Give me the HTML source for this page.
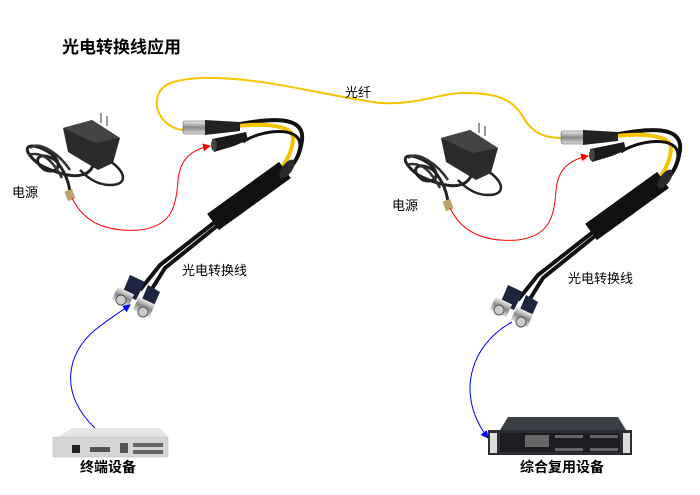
<!DOCTYPE html>
<html><head><meta charset="utf-8"><style>
html,body{margin:0;padding:0;background:#fff;width:700px;height:495px;overflow:hidden}
svg{display:block}
text{font-family:"Liberation Sans","Noto Sans CJK SC",sans-serif;fill:#000}
</style></head><body>
<svg width="700" height="495" viewBox="0 0 700 495" xmlns="http://www.w3.org/2000/svg">
<defs>
<marker id="ar" markerWidth="8" markerHeight="8" refX="7" refY="4" orient="auto" markerUnits="userSpaceOnUse"><path d="M0,0 L8,4 L0,8 z" fill="#f00"/></marker>
<marker id="ab" markerWidth="8" markerHeight="8" refX="7" refY="4" orient="auto" markerUnits="userSpaceOnUse"><path d="M0,0 L8,4 L0,8 z" fill="#00f"/></marker>
<linearGradient id="silver" x1="0" y1="0" x2="0" y2="1"><stop offset="0" stop-color="#eee"/><stop offset="0.5" stop-color="#888"/><stop offset="1" stop-color="#ddd"/></linearGradient>
<g id="grp">
  <!-- adapter cord -->
  <path d="M95,160 C90,185 60,175 40,165 C20,150 25,140 45,150 C65,160 60,175 45,170 C30,160 40,150 55,160 C65,170 70,185 70,195" fill="none" stroke="#222" stroke-width="3"/>
  <path d="M30,148 C40,140 60,155 70,170 M28,155 C45,150 55,165 62,178" fill="none" stroke="#333" stroke-width="2.5"/>
  <path d="M108,160 C125,170 130,185 110,185 C95,185 85,175 80,170" fill="none" stroke="#222" stroke-width="2.5"/>
  <rect x="66" y="190" width="8" height="10" fill="#b9a36a" transform="rotate(-20 70 195)"/>
  <!-- adapter body -->
  <path d="M63,128 L92,120 L120,138 L113,163 L98,170 L68,152 Z" fill="#2b2b2b"/>
  <path d="M63,128 L92,120 L120,138 L95,143 Z" fill="#444"/>
  <rect x="100" y="113" width="2" height="10" fill="#999"/><rect x="106" y="116" width="2" height="10" fill="#999"/>
  <!-- red connector -->
  <path d="M72,198 C85,225 110,232 140,230 C170,226 176,210 178,180 C180,160 190,150 210,146" fill="none" stroke="#f00" stroke-width="1" marker-end="url(#ar)"/>
  <!-- cables from connectors -->
  <path d="M235,125 C270,118 305,115 302,140 C300,155 295,163 288,170" fill="none" stroke="#111" stroke-width="4"/>
  <path d="M238,126 C265,123 295,125 293,140 C291,155 285,163 280,170" fill="none" stroke="#f5c400" stroke-width="4"/>
  <path d="M243,142 C260,130 300,125 300,145 C299,158 292,165 286,172" fill="none" stroke="#111" stroke-width="3"/>
  <!-- FC connector -->
  <rect x="183" y="121" width="24" height="13" rx="2" fill="url(#silver)" stroke="#555" stroke-width="0.5"/>
  <path d="M205,120 L240,122 L240,131 L205,135 Z" fill="#222"/>
  <!-- DC jack -->
  <path d="M212,139 L232,135 L246,132 L248,140 L234,146 L214,152 Z" fill="#1a1a1a"/>
  <ellipse cx="214" cy="145" rx="3" ry="6" fill="#444"/>
  <!-- lower cables -->
  <path d="M215,222 L160,265 L140,290" fill="none" stroke="#111" stroke-width="4"/>
  <path d="M217,226 L165,268 L150,292" fill="none" stroke="#111" stroke-width="4"/>
  <!-- body -->
  <line x1="285" y1="170" x2="213" y2="222" stroke="#111" stroke-width="20"/>
  <ellipse cx="287" cy="169" rx="5" ry="11" transform="rotate(36 287 169)" fill="#2a2a2a"/>
  <!-- BNCs -->
  <path d="M130,275 L145,282 L136,300 L122,294 Z" fill="#1d2440"/>
  <rect x="114" y="290" width="18" height="14" fill="url(#silver)" transform="rotate(25 123 297)"/>
  <circle cx="121" cy="300" r="5" fill="#ccc" stroke="#555"/>
  <path d="M148,285 L160,292 L152,310 L140,304 Z" fill="#1d2440"/>
  <rect x="135" y="300" width="18" height="14" fill="url(#silver)" transform="rotate(25 144 307)"/>
  <circle cx="143" cy="312" r="5" fill="#ccc" stroke="#555"/>
</g>
</defs>
<text x="62" y="53" font-size="17" font-weight="bold">光电转换线应用</text>
<path d="M183,130 C165,128 155,112 157,100 C159,85 170,80 200,78 C260,76 320,95 380,103 C420,105 440,93 463,93 C490,93 510,96 522,115 C530,130 540,138 562,138" fill="none" stroke="#f5c400" stroke-width="2"/>
<text x="345" y="97" font-size="13">光纤</text>
<use href="#grp"/>
<use href="#grp" transform="translate(378,10)"/>
<text x="12" y="197" font-size="13">电源</text>
<text x="182" y="275" font-size="13">光电转换线</text>
<text x="392" y="210" font-size="13">电源</text>
<text x="568" y="283" font-size="13">光电转换线</text>
<path d="M95,428 C60,395 65,355 95,330 C110,318 120,312 130,305" fill="none" stroke="#00f" stroke-width="1" marker-end="url(#ab)"/>
<path d="M512,322 C470,345 455,395 488,438" fill="none" stroke="#00f" stroke-width="1" marker-end="url(#ab)"/>
<path d="M58,437 L72,428 L160,428 L168,437 Z" fill="#e6e6e6"/>
<rect x="53" y="437" width="115" height="20" fill="#d5d5d5" stroke="#bbb" stroke-width="0.5"/>
<rect x="72" y="445" width="8" height="8" fill="#222"/>
<rect x="90" y="447" width="20" height="5" fill="#555"/>
<rect x="120" y="443" width="8" height="10" fill="#555"/>
<rect x="133" y="443" width="30" height="4" fill="#666"/><rect x="133" y="450" width="30" height="4" fill="#666"/>
<text x="80" y="472" font-size="14" font-weight="bold">终端设备</text>
<path d="M500,430 L508,417 L618,417 L626,430 Z" fill="#3a3d44"/>
<rect x="488" y="430" width="144" height="25" fill="#2b2e35"/>
<rect x="490" y="433" width="7" height="20" fill="#ddd"/><rect x="623" y="433" width="7" height="20" fill="#ddd"/>
<rect x="500" y="433" width="120" height="19" fill="#1c1e23"/>
<rect x="525" y="435" width="24" height="12" fill="#666"/>
<rect x="555" y="435" width="28" height="3" fill="#666"/><rect x="590" y="435" width="28" height="3" fill="#666"/>
<rect x="555" y="448" width="28" height="3" fill="#666"/><rect x="590" y="448" width="28" height="3" fill="#666"/>
<text x="520" y="472" font-size="14" font-weight="bold">综合复用设备</text>
</svg>
</body></html>
